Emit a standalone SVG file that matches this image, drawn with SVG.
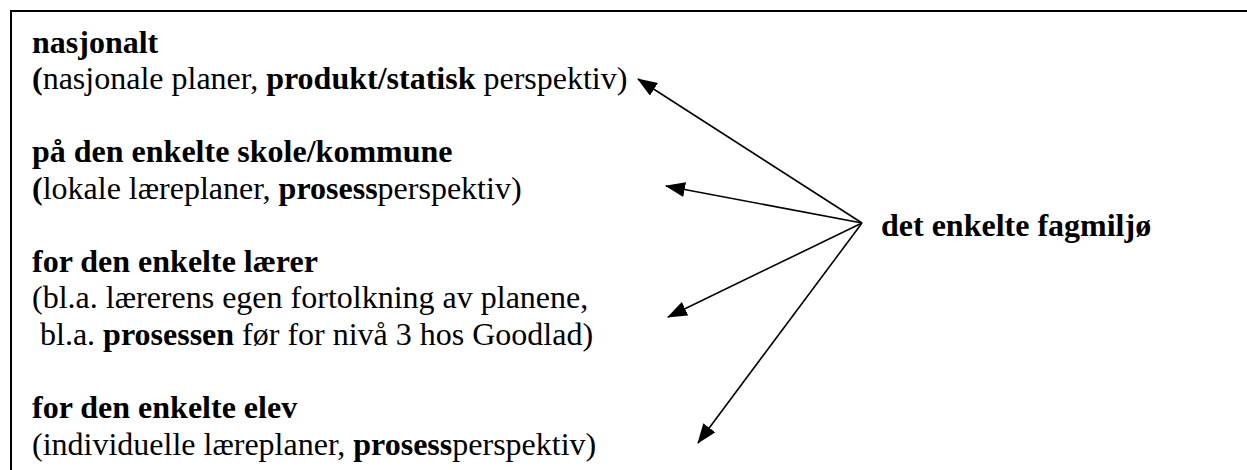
<svg xmlns="http://www.w3.org/2000/svg" width="1247" height="470" viewBox="0 0 1247 470">
  <style>
    .t { font-size: 32px; fill: #000; }
    .b { font-weight: bold; }
    .frame { fill: none; stroke: #000; stroke-width: 2; }
    .link { fill: none; stroke: #000; stroke-width: 1.6; marker-end: url(#head); }
  </style>
  <defs>
    <marker id="head" viewBox="0 0 20 15" refX="19" refY="7.5" markerWidth="20" markerHeight="15" markerUnits="userSpaceOnUse" orient="auto">
      <path d="M0,0 L20,7.5 L0,15 z" fill="#000"/>
    </marker>
  </defs>
  <rect width="1247" height="470" fill="#fff"/>

  <!-- page frame (open towards right and bottom) -->
  <path class="frame" d="M11,470 L11,11 L1247,11"/>

  <g id="level-national">
    <text class="t b" x="32" y="52.5" font-family="Liberation Serif, serif">nasjonalt</text>
    <text class="t" x="32" y="89" font-family="Liberation Serif, serif"><tspan class="b">(</tspan>nasjonale planer, <tspan class="b">produkt/statisk</tspan> perspektiv)</text>
  </g>

  <g id="level-school">
    <text class="t b" x="32" y="162" font-family="Liberation Serif, serif">på den enkelte skole/kommune</text>
    <text class="t" x="32" y="198.5" font-family="Liberation Serif, serif"><tspan class="b">(</tspan>lokale læreplaner, <tspan class="b">prosess</tspan>perspektiv)</text>
  </g>

  <g id="level-teacher">
    <text class="t b" x="32" y="272" font-family="Liberation Serif, serif">for den enkelte lærer</text>
    <text class="t" x="32" y="308" font-family="Liberation Serif, serif">(bl.a. lærerens egen fortolkning av planene,</text>
    <text class="t" x="32" y="345" font-family="Liberation Serif, serif" xml:space="preserve"> bl.a. <tspan class="b">prosessen</tspan> før for nivå 3 hos Goodlad)</text>
  </g>

  <g id="level-pupil">
    <text class="t b" x="32" y="418" font-family="Liberation Serif, serif">for den enkelte elev</text>
    <text class="t" x="32" y="455" font-family="Liberation Serif, serif">(individuelle læreplaner, <tspan class="b">prosess</tspan>perspektiv)</text>
  </g>

  <g id="subject-environment">
    <text class="t b" x="881" y="235.5" font-family="Liberation Serif, serif">det enkelte fagmiljø</text>
  </g>

  <g id="connectors">
    <line class="link" x1="862" y1="223" x2="638" y2="79"/>
    <line class="link" x1="862" y1="223" x2="666" y2="186"/>
    <line class="link" x1="862" y1="223" x2="668" y2="317"/>
    <line class="link" x1="862" y1="223" x2="698" y2="443"/>
  </g>
</svg>
